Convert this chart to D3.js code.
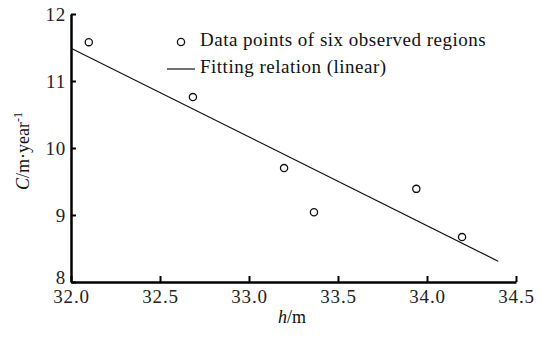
<!DOCTYPE html>
<html>
<head>
<meta charset="utf-8">
<script src="https://cdn.jsdelivr.net/npm/d3@7"></script>
<style>
  body { margin: 0; background: #fff; }
  text { font-family: "Liberation Serif", "DejaVu Serif", serif; }
</style>
</head>
<body>
<svg id="chart"></svg>
<script>
// observed points (h in m, C in m/year)
const hValues = [32.1, 32.685, 33.197, 33.365, 33.94, 34.197];
const cValues = [11.58, 10.76, 9.70, 9.04, 9.39, 8.67];
// fitted linear relation, end points
const fitH = [32.0, 34.4];
const fitC = [11.49, 8.31];
const xTicks = [32.0, 32.5, 33.0, 33.5, 34.0, 34.5];
const yTicks = [8, 9, 10, 11, 12];
const legendLabels = ["Data points of six observed regions", "Fitting relation (linear)"];

const width = 542, height = 338;
const margin = { top: 14, right: 26, bottom: 56, left: 71 };

const svg = d3.select("#chart").attr("width", width).attr("height", height);

const x = d3.scaleLinear().domain([32.0, 34.5]).range([margin.left, width - margin.right]);
const y = d3.scaleLinear().domain([8, 12]).range([height - margin.bottom, margin.top]);

// x axis, ticks pointing inward
const xAxis = svg.append("g")
  .attr("transform", `translate(0,${height - margin.bottom})`)
  .call(d3.axisBottom(x).tickValues(xTicks).tickFormat(d3.format(".1f")).tickSizeInner(-6).tickSizeOuter(0).tickPadding(8));
xAxis.select(".domain").attr("stroke-width", 2.5);
xAxis.selectAll(".tick line").attr("stroke-width", 2);
xAxis.selectAll("text").attr("font-size", 19).attr("letter-spacing", 0.8).attr("fill", "#222");

const yAxis = svg.append("g")
  .attr("transform", `translate(${margin.left},0)`)
  .call(d3.axisLeft(y).tickValues(yTicks).tickFormat(d3.format("d")).tickSizeInner(-5).tickSizeOuter(0).tickPadding(5));
yAxis.select(".domain").attr("stroke-width", 2.5);
yAxis.selectAll(".tick line").attr("stroke-width", 2);
yAxis.selectAll("text").attr("font-size", 19).attr("letter-spacing", 0.8).attr("fill", "#222");
yAxis.selectAll(".tick").filter(d => d === 8).select("text").attr("dy", "0.1em");

// fitted line
const fitData = fitH.map((h, i) => [h, fitC[i]]);
svg.append("path")
  .datum(fitData)
  .attr("fill", "none")
  .attr("stroke", "#111")
  .attr("stroke-width", 1.2)
  .attr("d", d3.line().x(d => x(d[0])).y(d => y(d[1])));

// observed points
svg.append("g")
  .selectAll("circle")
  .data(hValues.map((h, i) => ({ h: h, c: cValues[i] })))
  .join("circle")
  .attr("cx", d => x(d.h))
  .attr("cy", d => y(d.c))
  .attr("r", 3.6)
  .attr("fill", "none")
  .attr("stroke", "#111")
  .attr("stroke-width", 1.3);

// legend
const legend = svg.append("g");
legend.append("circle")
  .attr("cx", 181).attr("cy", 42).attr("r", 3.6)
  .attr("fill", "none").attr("stroke", "#111").attr("stroke-width", 1.3);
legend.append("line")
  .attr("x1", 167).attr("x2", 195).attr("y1", 69).attr("y2", 69)
  .attr("stroke", "#111").attr("stroke-width", 1.2);
legend.selectAll("text.lab")
  .data(legendLabels)
  .join("text")
  .attr("class", "lab")
  .attr("x", 200)
  .attr("y", (d, i) => 46 + i * 27)
  .attr("font-size", 19)
  .attr("letter-spacing", 0.5)
  .attr("fill", "#111")
  .text(d => d);

// axis titles
const xTitle = svg.append("text")
  .attr("x", 292).attr("y", 323)
  .attr("text-anchor", "middle")
  .attr("font-size", 18)
  .attr("fill", "#111");
xTitle.append("tspan").attr("font-style", "italic").text("h");
xTitle.append("tspan").text("/m");

const yTitle = svg.append("text")
  .attr("transform", "translate(29,151) rotate(-90)")
  .attr("text-anchor", "middle")
  .attr("font-size", 18)
  .attr("fill", "#111");
yTitle.append("tspan").attr("font-style", "italic").text("C");
yTitle.append("tspan").text("/m\u00b7year");
yTitle.append("tspan").attr("dy", -7).attr("font-size", 12).text("-1");
</script>
</body>
</html>
